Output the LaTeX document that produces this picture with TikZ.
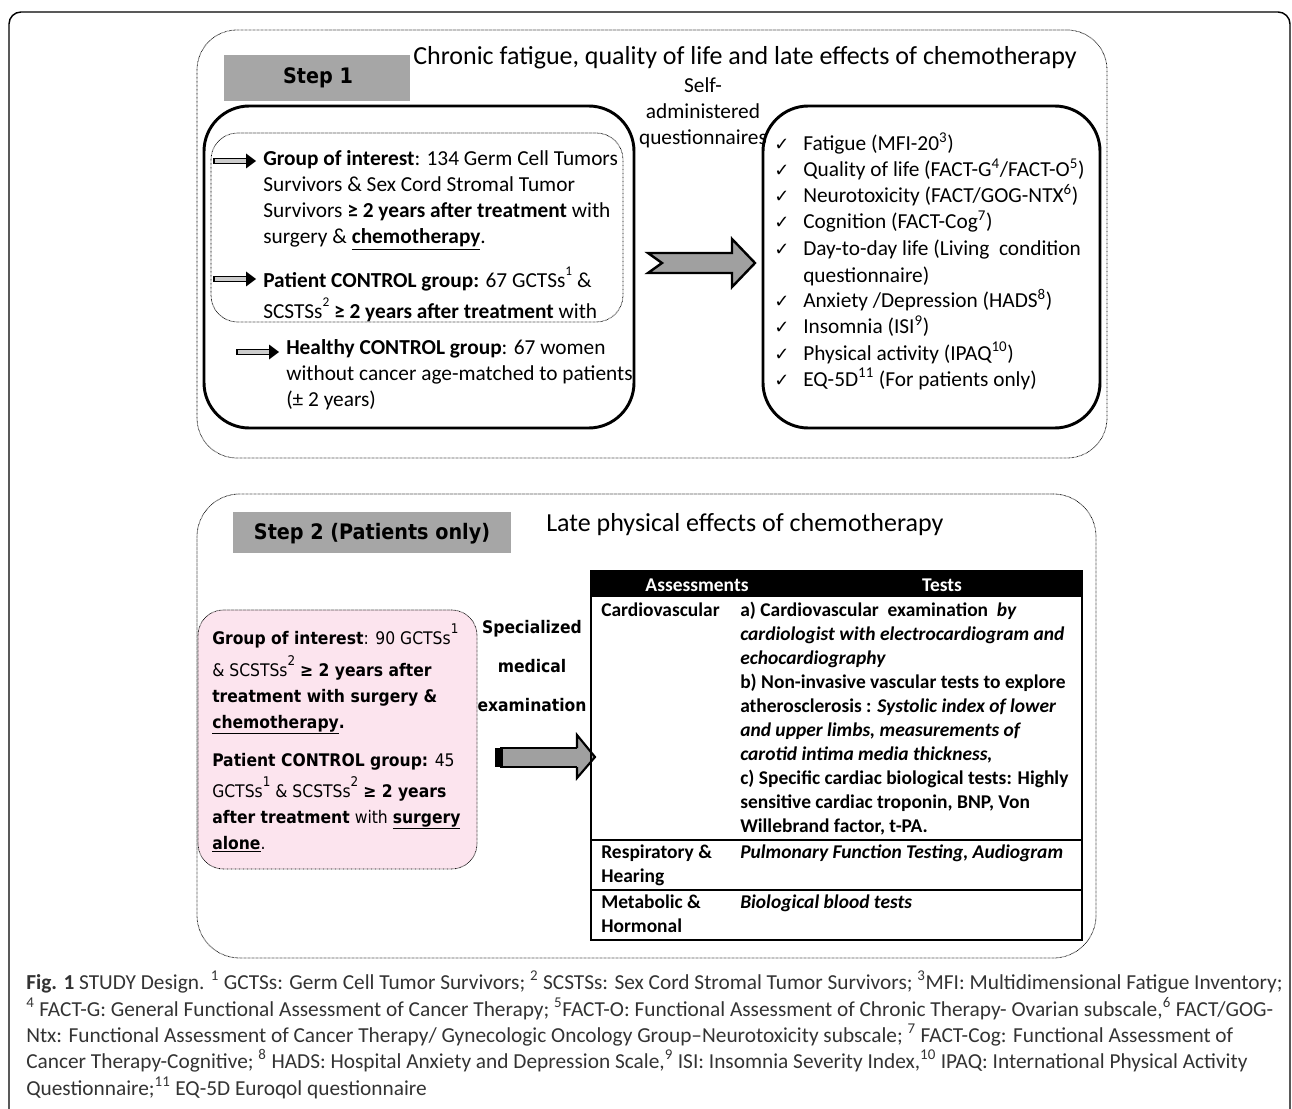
\documentclass[tikz,border=0pt]{standalone}
\usepackage{fontspec}
\usepackage{graphicx}
\setmainfont{Carlito}
\newfontfamily\dvc{DejaVu Sans Condensed}
\newfontfamily\dvs{DejaVu Sans}
\usetikzlibrary{fit}
\definecolor{stepgray}{HTML}{A6A6A6}
\definecolor{pinkfill}{HTML}{FCE4EE}
\definecolor{arrgray}{HTML}{A0A0A0}
\definecolor{captext}{HTML}{333333}
\newcommand{\mysup}[1]{\raisebox{0.6em}{\fontsize{10}{10}\selectfont #1}}
\newcommand{\ck}{{\dvs\fontsize{13.5}{13.5}\selectfont ✓}}
\tikzset{
 txt/.style={anchor=base west, inner sep=0pt, font=\fontsize{16}{18}\selectfont},
 ctxt/.style={anchor=base, inner sep=0pt, font=\fontsize{16}{18}\selectfont},
 ttl/.style={anchor=base west, inner sep=0pt, font=\fontsize{19.5}{22}\selectfont},
 tbl/.style={anchor=base west, inner sep=0pt, font=\fontsize{14.6}{16}\selectfont\bfseries},
 thead/.style={anchor=base, inner sep=0pt, text=white, font=\fontsize{14.6}{16}\selectfont\bfseries},
 pinktxt/.style={anchor=base west, inner sep=0pt, font=\dvc\fontsize{13}{15}\selectfont},
 spec/.style={anchor=base, inner sep=0pt, font=\dvc\bfseries\fontsize{13}{15}\selectfont},
 stepbox/.style={fill=stepgray, inner sep=0pt},
 steptxt/.style={anchor=base, inner sep=0pt, font=\dvc\bfseries\fontsize{16}{18}\selectfont},
 dotbox/.style={draw, dash pattern=on 0.45pt off 0.55pt, line width=0.6pt, inner sep=0pt},
 solidbox/.style={draw, line width=2.2pt, rounded corners=34pt, inner sep=0pt},
 captxt/.style={anchor=base west, inner sep=0pt, text=captext, font=\fontsize{16}{18}\selectfont},
 dblarrow/.pic={\draw[line width=1.1pt, fill=gray!40] (0,-2.6) rectangle (33,2.6);
   \fill (32,-7.5) -- (42,0) -- (32,7.5) -- cycle;},
}
\begin{document}
\begin{tikzpicture}[x=0.75pt,y=-0.75pt]
\useasboundingbox (0,0) rectangle (1292,1109);
% outer frame
\draw[line width=1.1pt, rounded corners=9pt] (9,1112) -- (9,12) -- (1290,12) -- (1290,1112);

% ---------------- STEP 1 ----------------
\node[dotbox, rounded corners=30pt, fit={(197,30) (1107,458)}] (step1) {};
\node[stepbox, fit={(224,55) (410,101)}] (s1lbl) {};
\node[steptxt] (s1txt) at (318,84) {Step 1};
\node[ttl] (t1) at (413,65) {Chronic fatigue, quality of life and late effects of chemotherapy};
\node[ctxt] (sa1) at (703,93) {Self-};
\node[ctxt] (sa2) at (703,119) {administered};
\node[ctxt] (sa3) at (703,145) {questionnaires};

\node[solidbox, fit={(204,106) (634,428)}] (lbox) {};
\node[dotbox, rounded corners=20pt, fit={(211,133) (623,322)}] (ibox) {};
\pic at (214,161) {dblarrow};
\pic at (214,279) {dblarrow};
\pic at (237,352) {dblarrow};
\node[txt] (g1) at (263,166) {\textbf{Group of interest}: 134 Germ Cell Tumors};
\node[txt] (g2) at (263,192) {Survivors \& Sex Cord Stromal Tumor};
\node[txt] (g3) at (263,218) {Survivors \textbf{≥ 2 years after treatment} with};
\node[txt] (g4) at (263,244) {surgery \& \textbf{\underline{chemotherapy}}.};
\node[txt] (p1) at (263,288) {\textbf{Patient CONTROL group:} 67 GCTSs\mysup{1} \&};
\node[txt] (p2) at (263,319) {SCSTSs\mysup{2} \textbf{≥ 2 years after treatment} with};
\node[txt] (h1) at (286,354) {\textbf{Healthy CONTROL group}: 67 women};
\node[txt] (h2) at (286,380) {without cancer age-matched to patients};
\node[txt] (h3) at (286,406) {(± 2 years)};

\node[solidbox, fit={(763,106) (1100,428)}] (rbox) {};
\foreach \yy/\nm/\tx/\c in {
 151/q1/{Fatigue (MFI-20\textsuperscript{3})}/1,
 177/q2/{Quality of life (FACT-G\textsuperscript{4}/FACT-O\textsuperscript{5})}/1,
 203/q3/{Neurotoxicity (FACT/GOG-NTX\textsuperscript{6})}/1,
 229/q4/{Cognition (FACT-Cog\textsuperscript{7})}/1,
 256/q5/{Day-to-day life (Living\ \ condition}/1,
 282/q6/{questionnaire)}/0,
 308/q7/{Anxiety /Depression (HADS\textsuperscript{8})}/1,
 334/q8/{Insomnia (ISI\textsuperscript{9})}/1,
 360/q9/{Physical activity (IPAQ\textsuperscript{10})}/1,
 386/q10/{EQ-5D\textsuperscript{11} (For patients only)}/1}{
 \node[txt] (\nm) at (803,\yy) {\tx};
 \ifnum\c=1 \node[anchor=base west, inner sep=0pt] (\nm c) at (774,\yy) {\ck}; \fi
}
% big arrow step 1
\coordinate (a1s) at (648,263);
\coordinate (a1e) at (755,263);
\draw[line width=1.8pt, fill=arrgray, line join=miter]
 (a1s) ++(0,-10) -- (732,253) -- (732,239) -- (a1e) -- (732,287) -- (732,273) -- (648,273) -- (662,263) -- cycle;

% ---------------- STEP 2 ----------------
\node[dotbox, rounded corners=32pt, fit={(197,494) (1096,958)}] (step2) {};
\node[stepbox, fit={(233,512) (511,553)}] (s2lbl) {};
\node[steptxt] (s2txt) at (372,539) {Step 2 (Patients only)};
\node[ttl] (t2) at (546,531) {Late physical effects of chemotherapy};

\node[dotbox, fill=pinkfill, rounded corners=19pt, fit={(198,610) (477,869)}] (pbox) {};
\node[pinktxt] (k1) at (212,644) {\textbf{Group of interest}: 90 GCTSs\mysup{1}};
\node[pinktxt] (k2) at (212,676) {\& SCSTSs\mysup{2} \textbf{≥ 2 years after}};
\node[pinktxt] (k3) at (212,702) {\textbf{treatment with surgery \&}};
\node[pinktxt] (k4) at (212,728) {\textbf{\underline{chemotherapy}.}};
\node[pinktxt] (k5) at (212,766) {\textbf{Patient CONTROL group:} 45};
\node[pinktxt] (k6) at (212,797) {GCTSs\mysup{1} \& SCSTSs\mysup{2} \textbf{≥ 2 years}};
\node[pinktxt] (k7) at (212,823) {\textbf{after treatment} with \textbf{\underline{surgery}}};
\node[pinktxt] (k8) at (212,849) {\textbf{\underline{alone}}.};

\node[spec] (sp1) at (532,633) {Specialized};
\node[spec] (sp2) at (532,672) {medical};
\node[spec] (sp3) at (532,711) {examination};

% arrow step 2
\coordinate (a2s) at (495,757);
\coordinate (a2e) at (595,757);
\fill[arrgray] (500,748) -- (577,748) -- (577,735) -- (a2e) -- (577,778) -- (577,767) -- (500,767) -- cycle;
\draw[line width=0.8pt] (500,748) -- (577,748) (500,767) -- (577,767);
\draw[line width=1.6pt, line join=miter] (577,748) -- (577,735) -- (a2e) -- (577,778) -- (577,767);
\fill (a2s) ++(0,-9) rectangle (503,767);

% table
\node[draw, line width=1.5pt, inner sep=0pt, fit={(591,571) (1082,940)}] (tab) {};
\fill (591,571) rectangle (1082,597);
\draw[line width=1.5pt] (591,840) -- (1082,840) (591,890) -- (1082,890);
\node[thead] (th1) at (697,591) {Assessments};
\node[thead] (th2) at (942,591) {Tests};
\node[tbl] (c1) at (601,616) {Cardiovascular};
\node[tbl] (c2) at (601,858) {Respiratory \&};
\node[tbl] (c3) at (601,882) {Hearing};
\node[tbl] (c4) at (601,908) {Metabolic \&};
\node[tbl] (c5) at (601,932) {Hormonal};
\node[tbl] (d1) at (740,616) {a) Cardiovascular\ \ examination\ \ \textit{by}};
\node[tbl] (d2) at (740,640) {\textit{cardiologist with electrocardiogram and}};
\node[tbl] (d3) at (740,664) {\textit{echocardiography}};
\node[tbl] (d4) at (740,688) {b) Non-invasive vascular tests to explore};
\node[tbl] (d5) at (740,712) {atherosclerosis : \textit{Systolic index of lower}};
\node[tbl] (d6) at (740,736) {\textit{and upper limbs, measurements of}};
\node[tbl] (d7) at (740,760) {\textit{carotid intima media thickness,}};
\node[tbl] (d8) at (740,784) {c) Specific cardiac biological tests: Highly};
\node[tbl] (d9) at (740,808) {sensitive cardiac troponin, BNP, Von};
\node[tbl] (d10) at (740,832) {Willebrand factor, t-PA.};
\node[tbl] (d11) at (740,858) {\textit{Pulmonary Function Testing, Audiogram}};
\node[tbl] (d12) at (740,908) {\textit{Biological blood tests}};

% caption
\node[captxt] (cp1) at (26,989) {\textbf{Fig. 1} STUDY Design. \textsuperscript{1} GCTSs: Germ Cell Tumor Survivors; \textsuperscript{2} SCSTSs: Sex Cord Stromal Tumor Survivors; \textsuperscript{3}MFI: Multidimensional Fatigue Inventory;};
\node[captxt] (cp2) at (26,1016) {\textsuperscript{4} FACT-G: General Functional Assessment of Cancer Therapy; \textsuperscript{5}FACT-O: Functional Assessment of Chronic Therapy- Ovarian subscale,\textsuperscript{6} FACT/GOG-};
\node[captxt] (cp3) at (26,1042) {Ntx: Functional Assessment of Cancer Therapy/ Gynecologic Oncology Group–Neurotoxicity subscale; \textsuperscript{7} FACT-Cog: Functional Assessment of};
\node[captxt] (cp4) at (26,1068) {Cancer Therapy-Cognitive; \textsuperscript{8} HADS: Hospital Anxiety and Depression Scale,\textsuperscript{9} ISI: Insomnia Severity Index,\textsuperscript{10} IPAQ: International Physical Activity};
\node[captxt] (cp5) at (26,1095) {Questionnaire;\textsuperscript{11} EQ-5D Euroqol questionnaire};
\end{tikzpicture}
\end{document}
